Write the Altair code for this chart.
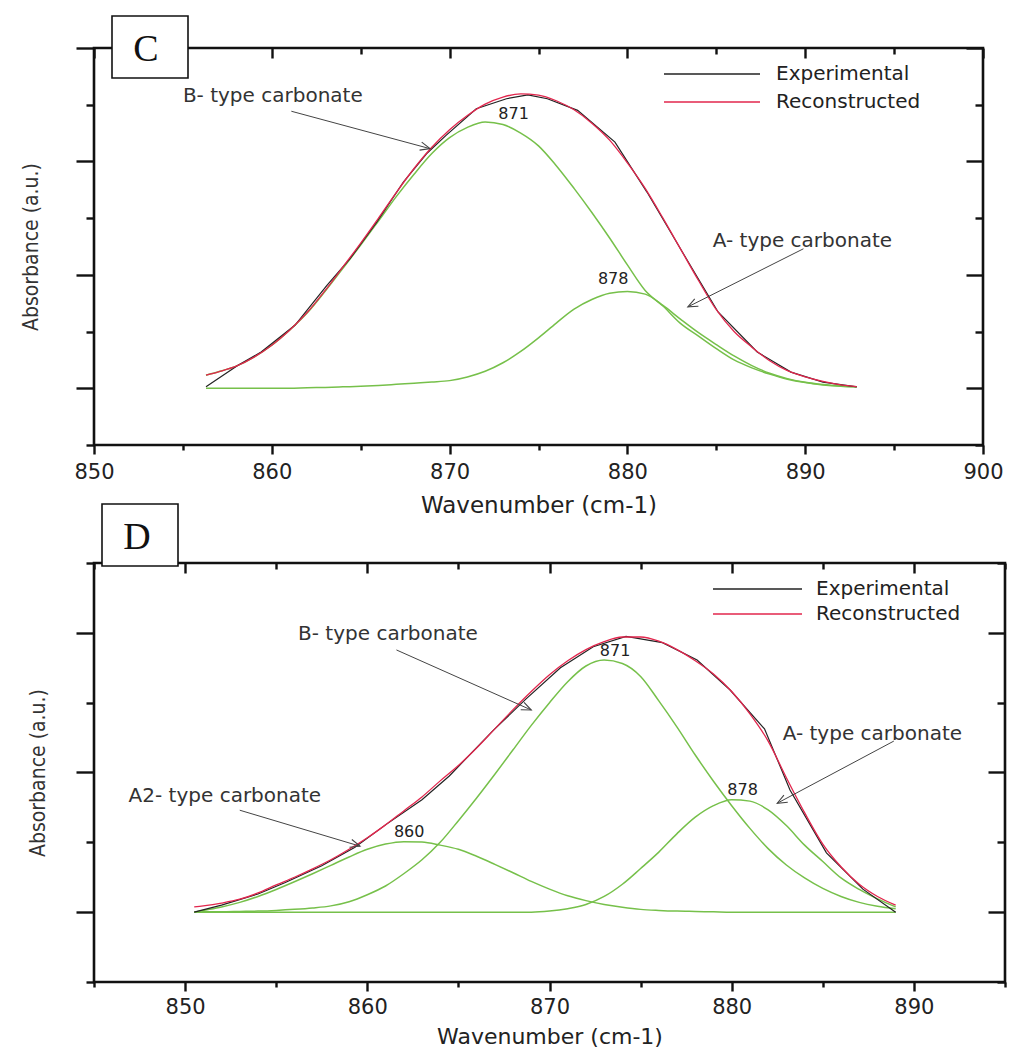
import math
import altair as alt
import pandas as pd

BLACK = "#222222"
RED = "#e2264d"
GREEN = "#76c04a"
INK = "#333333"
SERIES = ["Experimental", "Reconstructed"]

# ---------------- Panel C ----------------
C_EXP_X = [856.3, 858.1, 859.4, 861.3, 863.1, 864.4, 865.9, 867.4, 868.7, 869.8, 871.5, 873.2,
           874.4, 875.5, 877.2, 879.3, 881.1, 883.2, 885.1, 887.3, 889.2, 891.0, 892.9]
C_EXP_Y = [0.005, 0.081, 0.128, 0.222, 0.363, 0.457, 0.586, 0.727, 0.827, 0.892, 0.986, 1.021,
           1.035, 1.021, 0.980, 0.868, 0.692, 0.469, 0.269, 0.128, 0.057, 0.022, 0.005]

C_GRID = [856.3, 857, 858, 859, 860, 861, 862, 863, 864, 865, 866, 867, 868, 869, 870, 871,
          872, 873, 874, 875, 876, 877, 878, 879, 880, 881, 882, 883, 884, 885, 886, 887,
          888, 889, 890, 891, 892, 892.9]
C_REC = [0.046, 0.058, 0.078, 0.110, 0.152, 0.205, 0.268, 0.345, 0.428, 0.512, 0.600, 0.690,
         0.775, 0.850, 0.912, 0.962, 1.002, 1.027, 1.038, 1.034, 1.014, 0.982, 0.935, 0.875,
         0.795, 0.705, 0.600, 0.490, 0.380, 0.277, 0.200, 0.145, 0.097, 0.062, 0.040, 0.024,
         0.012, 0.006]
C_B871 = [0.046, 0.058, 0.078, 0.110, 0.152, 0.205, 0.266, 0.342, 0.423, 0.505, 0.590, 0.676,
          0.755, 0.828, 0.884, 0.920, 0.939, 0.930, 0.900, 0.855, 0.785, 0.705, 0.620, 0.530,
          0.435, 0.345, 0.290, 0.228, 0.184, 0.140, 0.100, 0.072, 0.050, 0.032, 0.020, 0.012,
          0.007, 0.005]
C_A878 = [0.0, 0.0, 0.0, 0.0, 0.0, 0.0, 0.002, 0.003, 0.005, 0.007, 0.010, 0.014, 0.018, 0.022,
          0.027, 0.040, 0.060, 0.090, 0.130, 0.178, 0.230, 0.279, 0.313, 0.335, 0.341, 0.332,
          0.292, 0.243, 0.196, 0.154, 0.114, 0.080, 0.053, 0.034, 0.021, 0.013, 0.008, 0.005]

C_NOTE_TEXT = ["B- type carbonate", "A- type carbonate"]
C_NOTE_X = [855.0, 884.8]
C_NOTE_Y = [1.030, 0.520]
C_ARROW_X1 = [861.1, 889.9]
C_ARROW_Y1 = [0.977, 0.492]
C_ARROW_X2 = [868.9, 883.4]
C_ARROW_Y2 = [0.845, 0.287]
C_PEAK_TEXT = ["871", "878"]
C_PEAK_X = [873.6, 879.2]
C_PEAK_Y = [0.968, 0.385]

# ---------------- Panel D ----------------
D_EXP_X = [850.5, 852.0, 854.0, 855.5, 857.5, 859.3, 861.0, 863.0, 864.5, 866.9, 868.7, 870.6,
           872.4, 874.2, 876.2, 878.1, 879.9, 881.8, 883.2, 885.2, 887.2, 889.0]
D_EXP_Y = [0.000, 0.020, 0.052, 0.085, 0.133, 0.185, 0.250, 0.322, 0.390, 0.520, 0.610, 0.700,
           0.760, 0.790, 0.772, 0.722, 0.637, 0.525, 0.350, 0.170, 0.066, 0.000]

D_GRID = [850.5, 851, 852, 853, 854, 855, 856, 857, 858, 859, 860, 861, 862, 863, 864, 865,
          866, 867, 868, 869, 870, 871, 872, 873, 874, 875, 876, 877, 878, 879, 880, 881,
          882, 883, 884, 885, 886, 887, 888, 889]
D_REC = [0.015, 0.018, 0.026, 0.037, 0.055, 0.078, 0.100, 0.124, 0.150, 0.180, 0.213, 0.250,
         0.290, 0.330, 0.376, 0.420, 0.470, 0.525, 0.580, 0.632, 0.680, 0.720, 0.752, 0.775,
         0.788, 0.788, 0.776, 0.752, 0.720, 0.682, 0.632, 0.568, 0.490, 0.385, 0.285, 0.195,
         0.130, 0.080, 0.045, 0.020]
D_A860 = [0.0, 0.005, 0.015, 0.028, 0.045, 0.065, 0.087, 0.110, 0.134, 0.158, 0.180, 0.195,
          0.202, 0.201, 0.192, 0.180, 0.160, 0.137, 0.113, 0.088, 0.066, 0.047, 0.033, 0.022,
          0.014, 0.008, 0.005, 0.003, 0.002, 0.001, 0.0, 0.0, 0.0, 0.0, 0.0, 0.0,
          0.0, 0.0, 0.0, 0.0]
D_B871 = [0.0, 0.001, 0.001, 0.002, 0.003, 0.005, 0.008, 0.012, 0.018, 0.030, 0.050, 0.075,
          0.110, 0.150, 0.200, 0.262, 0.327, 0.395, 0.465, 0.535, 0.600, 0.660, 0.705, 0.722,
          0.712, 0.675, 0.605, 0.530, 0.450, 0.375, 0.305, 0.240, 0.182, 0.135, 0.098, 0.068,
          0.045, 0.028, 0.017, 0.010]
D_A878 = [0.0, 0.0, 0.0, 0.0, 0.0, 0.0, 0.0, 0.0, 0.0, 0.0, 0.0, 0.0, 0.0, 0.0, 0.0, 0.0,
          0.0, 0.0, 0.0, 0.0, 0.003, 0.010, 0.022, 0.045, 0.080, 0.125, 0.172, 0.225, 0.272,
          0.305, 0.322, 0.318, 0.293, 0.248, 0.192, 0.145, 0.098, 0.065, 0.038, 0.015]

D_NOTE_TEXT = ["B- type carbonate", "A2- type carbonate", "A- type carbonate"]
D_NOTE_X = [856.2, 846.9, 882.8]
D_NOTE_Y = [0.797, 0.332, 0.510]
D_ARROW_X1 = [861.6, 853.0, 888.9]
D_ARROW_Y1 = [0.751, 0.292, 0.490]
D_ARROW_X2 = [869.0, 859.6, 882.5]
D_ARROW_Y2 = [0.579, 0.189, 0.312]
D_PEAK_TEXT = ["860", "871", "878"]
D_PEAK_X = [862.3, 873.6, 880.6]
D_PEAK_Y = [0.229, 0.748, 0.350]

ARROW_PATH = "M-1,-0.42L0,0L-1,0.42"


def comp_frame(grid, comps):
    rows = []
    for name, vals in comps.items():
        for x, v in zip(grid, vals):
            rows.append({"x": x, "v": v, "comp": name})
    return pd.DataFrame(rows)


def panel(p):
    W, H = p["w"], p["h"]
    xs = alt.Scale(domain=p["xdom"], nice=False, zero=False)
    ys = alt.Scale(domain=p["ydom"], nice=False, zero=False)
    sx = W / (p["xdom"][1] - p["xdom"][0])
    sy = H / (p["ydom"][1] - p["ydom"][0])

    def tick_axis(orient, values, size, offset=0):
        return alt.Axis(orient=orient, values=values, tickSize=size, offset=offset,
                        labels=False, title=None, domain=False, grid=False,
                        tickColor="#111111", tickWidth=2.4)

    bottom_major = alt.Axis(orient="bottom", values=p["xmaj"], tickSize=9, labels=True,
                            labelFont="DejaVu Sans", labelFontSize=21, labelColor="#222222",
                            labelPadding=p["lp"], labelFlush=False, labelOverlap=False,
                            format="d", title="Wavenumber (cm-1)", titleFont="DejaVu Sans",
                            titleFontSize=p["tfs"], titleFontWeight="normal",
                            titleColor="#222222",
                            titleY=p["ty"], domain=False, grid=False,
                            tickColor="#111111", tickWidth=2.4)
    left_major = alt.Axis(orient="left", values=p["ymaj"], tickSize=18, labels=False,
                          title="Absorbance (a.u.)",
                          titleFont="DejaVu Sans Condensed, Liberation Sans Narrow, sans-serif",
                          titleFontSize=21, titleFontWeight="normal", titleColor="#333333",
                          titleX=p["ytx"], titleY=H / 2, domain=False, grid=False,
                          tickColor="#111111", tickWidth=2.4)

    comp_df = comp_frame(p["grid"], p["comps"])
    exp_df = pd.DataFrame({"x": p["exp_x"], "v": p["exp_y"], "series": SERIES[0]})
    rec_df = pd.DataFrame({"x": p["grid"], "v": p["rec"], "series": SERIES[1]})

    legend = alt.Legend(orient="none", legendX=p["lgx"], legendY=16, title=None,
                        symbolType="stroke", symbolSize=p["sym"] ** 2, symbolStrokeWidth=1.3,
                        labelFont="DejaVu Sans", labelFontSize=20, labelColor="#222222",
                        labelOffset=p["lof"], clipHeight=20, rowPadding=p["rp"], padding=0,
                        labelLimit=220)
    color = alt.Color("series:N", scale=alt.Scale(domain=SERIES, range=[BLACK, RED]),
                      legend=legend)

    comp = alt.Chart(comp_df).mark_line(interpolate="monotone", strokeWidth=1.5,
                                        color=GREEN).encode(
        x=alt.X("x:Q", scale=xs, axis=bottom_major),
        y=alt.Y("v:Q", scale=ys, axis=left_major),
        detail="comp:N")
    exp = alt.Chart(exp_df).mark_line(strokeWidth=1.2).encode(
        x=alt.X("x:Q", scale=xs, axis=tick_axis("bottom", p["xmin"], 5)),
        y=alt.Y("v:Q", scale=ys, axis=tick_axis("left", p["ymin"], 8)),
        color=color)
    rec = alt.Chart(rec_df).mark_line(strokeWidth=1.3, interpolate="monotone").encode(
        x=alt.X("x:Q", scale=xs, axis=tick_axis("top", p["xmaj"], 10, -10)),
        y=alt.Y("v:Q", scale=ys, axis=tick_axis("right", p["ymaj"], 17, -17)),
        color=color)

    notes_df = pd.DataFrame({"label": p["note_text"], "x": p["note_x"], "v": p["note_y"]})
    notes = alt.Chart(notes_df).mark_text(align="left", baseline="middle", font="DejaVu Sans",
                                          fontSize=20, color=INK).encode(
        x=alt.X("x:Q", scale=xs, axis=tick_axis("top", p["xmin"], 6, -6)),
        y=alt.Y("v:Q", scale=ys, axis=tick_axis("right", p["ymin"], 8, -8)),
        text="label:N")

    peaks_df = pd.DataFrame({"label": p["peak_text"], "x": p["peak_x"], "v": p["peak_y"]})
    peaks = alt.Chart(peaks_df).mark_text(align="center", baseline="middle",
                                          font="DejaVu Sans", fontSize=16,
                                          color="#222222").encode(
        x=alt.X("x:Q", scale=xs, axis=None),
        y=alt.Y("v:Q", scale=ys, axis=None),
        text="label:N")

    angs = []
    for a, b, c, d in zip(p["ax1"], p["ay1"], p["ax2"], p["ay2"]):
        angs.append(math.degrees(math.atan2(-(d - b) * sy, (c - a) * sx)) % 360)
    arrow_df = pd.DataFrame({"x1": p["ax1"], "y1": p["ay1"], "x2": p["ax2"],
                             "y2": p["ay2"], "ang": angs})
    arrows = alt.Chart(arrow_df).mark_rule(color="#444444", strokeWidth=1.0).encode(
        x=alt.X("x1:Q", scale=xs, axis=None),
        y=alt.Y("y1:Q", scale=ys, axis=None),
        x2="x2:Q", y2="y2:Q")
    heads = alt.Chart(arrow_df).mark_point(shape=ARROW_PATH, filled=False, size=380,
                                           strokeWidth=1.1, color="#444444",
                                           opacity=1).encode(
        x=alt.X("x2:Q", scale=xs, axis=None),
        y=alt.Y("y2:Q", scale=ys, axis=None),
        angle=alt.Angle("ang:Q", scale=None))

    box_df = pd.DataFrame({"letter": [p["letter"]]})
    bx0, bx1, by0, by1, tx, ty = p["box"]
    box = alt.Chart(box_df).mark_rect(fill="white", stroke="#111111",
                                      strokeWidth=1.6).encode(
        x=alt.value(bx0), x2=alt.value(bx1), y=alt.value(by0), y2=alt.value(by1))
    letter = alt.Chart(box_df).mark_text(font="Liberation Serif", fontSize=38,
                                         color="#111111", align="center",
                                         baseline="middle").encode(
        x=alt.value(tx), y=alt.value(ty), text="letter:N")

    return alt.layer(comp, exp, rec, notes, peaks, arrows, heads, box, letter).resolve_axis(
        x="independent", y="independent").properties(width=W, height=H)


PANEL_C = dict(
    letter="C", w=889, h=397, xdom=[850, 900], ydom=[-0.2, 1.2],
    xmaj=[850, 860, 870, 880, 890, 900], xmin=[855, 865, 875, 885, 895],
    ymaj=[0, 0.4, 0.8, 1.2], ymin=[-0.2, 0.2, 0.6, 1.0],
    lp=7, ty=49, tfs=23, ytx=-53,
    grid=C_GRID, rec=C_REC, comps={"871": C_B871, "878": C_A878},
    exp_x=C_EXP_X, exp_y=C_EXP_Y,
    note_text=C_NOTE_TEXT, note_x=C_NOTE_X, note_y=C_NOTE_Y,
    peak_text=C_PEAK_TEXT, peak_x=C_PEAK_X, peak_y=C_PEAK_Y,
    ax1=C_ARROW_X1, ay1=C_ARROW_Y1, ax2=C_ARROW_X2, ay2=C_ARROW_Y2,
    lgx=569, sym=96, lof=15, rp=8,
    box=(18, 94, -32, 30, 52, 2),
)
PANEL_D = dict(
    letter="D", w=911, h=419, xdom=[845, 895], ydom=[-0.2, 1.0],
    xmaj=[850, 860, 870, 880, 890], xmin=[845, 855, 865, 875, 885, 895],
    ymaj=[0, 0.4, 0.8], ymin=[-0.2, 0.2, 0.6, 1.0],
    lp=5, ty=44, tfs=22, ytx=-46,
    grid=D_GRID, rec=D_REC, comps={"860": D_A860, "871": D_B871, "878": D_A878},
    exp_x=D_EXP_X, exp_y=D_EXP_Y,
    note_text=D_NOTE_TEXT, note_x=D_NOTE_X, note_y=D_NOTE_Y,
    peak_text=D_PEAK_TEXT, peak_x=D_PEAK_X, peak_y=D_PEAK_Y,
    ax1=D_ARROW_X1, ay1=D_ARROW_Y1, ax2=D_ARROW_X2, ay2=D_ARROW_Y2,
    lgx=618, sym=89, lof=13, rp=5,
    box=(8, 84, -59, 3, 43, -25),
)

chart = alt.vconcat(panel(PANEL_C), panel(PANEL_D), spacing=118, bounds="flush").resolve_scale(
    color="independent").properties(
    padding={"left": 18, "top": 13, "right": 4, "bottom": 0}).configure(
    background="white").configure_view(stroke="#111111", strokeWidth=2.6)

chart.save("out.html", embed_options={"renderer": "svg", "actions": False})
